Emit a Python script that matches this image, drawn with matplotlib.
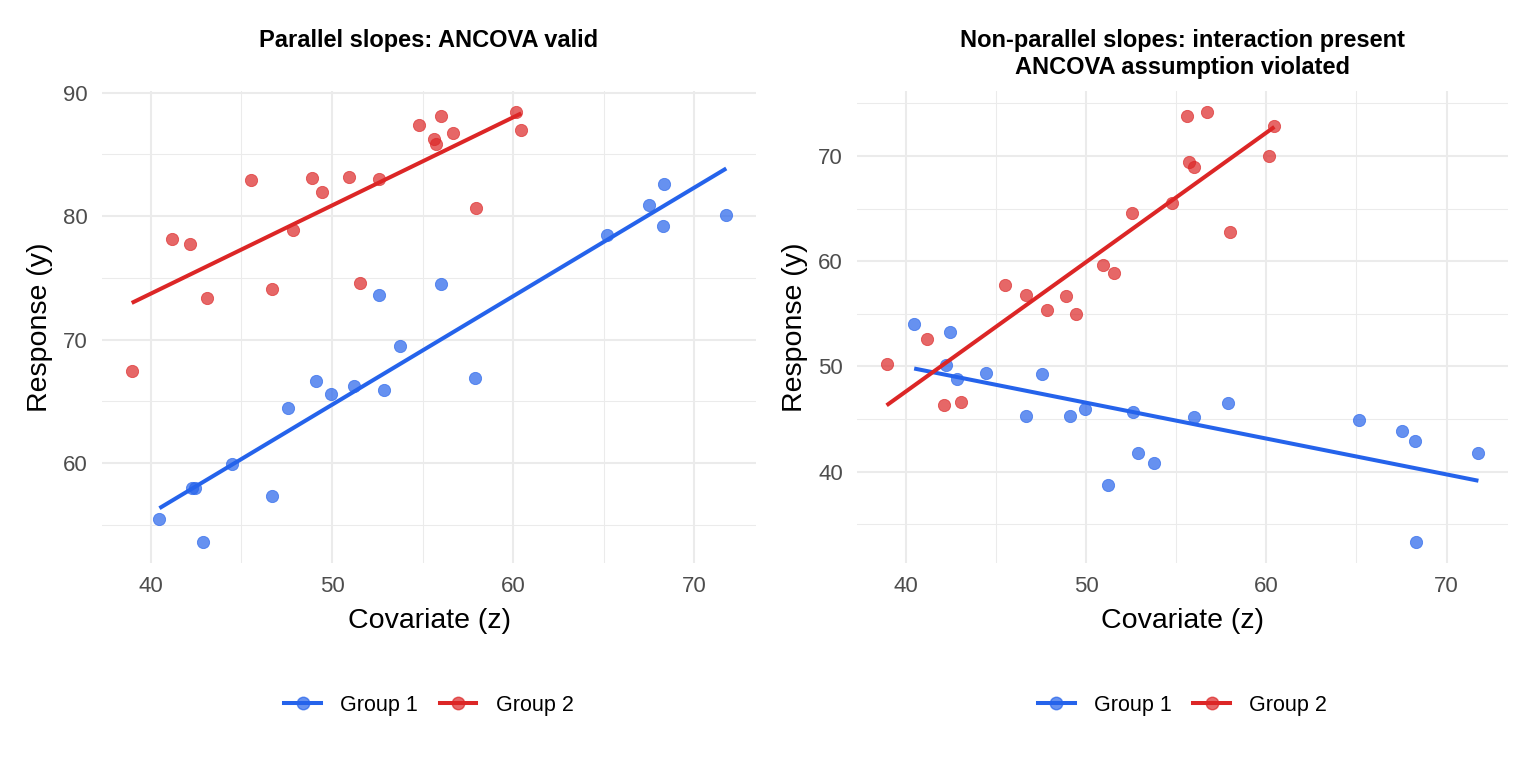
import numpy as np
import matplotlib
matplotlib.use("Agg")
import matplotlib.pyplot as plt
from matplotlib.lines import Line2D
from matplotlib.colors import to_rgba

# ---------------- data ----------------
z_g1 = [40.47, 42.25, 42.45, 42.86, 44.47, 46.70, 47.57, 49.09, 49.97, 51.22,
        52.60, 52.87, 53.76, 56.00, 57.90, 65.17, 67.53, 68.28, 68.33, 71.77]
z_g2 = [38.94, 41.19, 42.15, 43.07, 45.53, 46.67, 47.84, 48.88, 49.42, 50.92,
        51.53, 52.57, 54.78, 55.63, 55.74, 56.00, 56.70, 57.97, 60.18, 60.45]

# Panel 1: parallel slopes
y1_g1 = [55.44, 58.00, 58.00, 53.64, 59.90, 57.36, 64.47, 66.68, 65.60, 66.20,
         73.64, 65.93, 69.49, 74.53, 66.90, 78.44, 80.91, 79.17, 82.60, 80.10]
y1_g2 = [67.47, 78.17, 77.77, 73.33, 82.96, 74.06, 78.90, 83.09, 81.96, 83.17,
         74.54, 82.98, 87.39, 86.26, 85.83, 88.12, 86.72, 80.62, 88.39, 86.96]

# Panel 2: non-parallel slopes
y2_g1 = [53.99, 50.16, 53.24, 48.77, 49.37, 45.25, 49.28, 45.31, 45.94, 38.71,
         45.66, 41.73, 40.82, 45.16, 46.54, 44.94, 43.84, 42.96, 33.36, 41.76]
y2_g2 = [50.22, 52.63, 46.35, 46.60, 57.78, 56.79, 55.40, 56.73, 55.02, 59.59,
         58.92, 64.54, 65.49, 73.78, 69.43, 68.98, 74.13, 62.79, 69.97, 72.83]

groups = ["Group 1", "Group 2"]
titles = ["Parallel slopes: ANCOVA valid",
          "Non-parallel slopes: interaction present\nANCOVA assumption violated"]
xlabel = "Covariate (z)"
ylabel = "Response (y)"

x_major = [40, 50, 60, 70]
x_minor = [35, 45, 55, 65, 75]
y1_major = [60, 70, 80, 90]
y1_minor = [55, 65, 75, 85]
y2_major = [40, 50, 60, 70]
y2_minor = [35, 45, 55, 65, 75]

# ---------------- style ----------------
BLUE = "#2563EB"
RED = "#DC2626"
colors = [BLUE, RED]
FONT = ["Liberation Sans", "DejaVu Sans"]
plt.rcParams["font.family"] = FONT

W, H = 1536, 768
fig = plt.figure(figsize=(W / 100, H / 100), dpi=100)
fig.patch.set_facecolor("white")


def px_axes(left, top, right, bottom):
    return fig.add_axes([left / W, 1 - bottom / H, (right - left) / W, (bottom - top) / H])


def expand(vals):
    lo, hi = min(vals), max(vals)
    pad = 0.05 * (hi - lo)
    return lo - pad, hi + pad


panels = [
    dict(box=(102, 91, 756, 563), ys=(y1_g1, y1_g2), ymaj=y1_major, ymin=y1_minor, title=titles[0]),
    dict(box=(857, 91, 1508, 563), ys=(y2_g1, y2_g2), ymaj=y2_major, ymin=y2_minor, title=titles[1]),
]

zs = (z_g1, z_g2)

for p in panels:
    ax = px_axes(*p["box"])
    ax.set_facecolor("white")
    for s in ax.spines.values():
        s.set_visible(False)

    ax.set_xticks(x_major)
    ax.set_xticks(x_minor, minor=True)
    ax.set_yticks(p["ymaj"])
    ax.set_yticks(p["ymin"], minor=True)

    all_z = z_g1 + z_g2
    all_y = p["ys"][0] + p["ys"][1]

    ax.grid(which="major", color="#EBEBEB", linewidth=1.5)
    ax.grid(which="minor", color="#EBEBEB", linewidth=0.75)
    ax.set_axisbelow(True)
    ax.tick_params(which="both", length=0)
    ax.tick_params(axis="x", which="major", labelsize=16, labelcolor="#4D4D4D", pad=9)
    ax.tick_params(axis="y", which="major", labelsize=16, labelcolor="#4D4D4D", pad=10)

    for zg, yg, c in zip(zs, p["ys"], colors):
        zg = np.asarray(zg)
        yg = np.asarray(yg)
        ax.scatter(zg, yg, s=78, color=c, alpha=0.7, edgecolors=c, linewidths=0.6, zorder=3)
        b, a = np.polyfit(zg, yg, 1)
        xx = np.array([zg.min(), zg.max()])
        ax.plot(xx, a + b * xx, color=c, linewidth=2.9, zorder=4, solid_capstyle="butt")

    ax.set_xlim(*expand(all_z))
    ax.set_ylim(*expand(all_y))

    left, top, right, bottom = p["box"]
    cx = (left + right) / 2
    # title (one text per line, top-aligned like the reference)
    for i, line in enumerate(p["title"].split("\n")):
        fig.text(cx / W, 1 - (47.5 + 26.5 * i) / H, line, ha="center", va="baseline",
                 fontsize=17, fontweight="bold")
    # axis labels
    fig.text(cx / W, 1 - 621 / H, xlabel, ha="center", va="center", fontsize=20.5)
    fig.text((left - 62) / W, 1 - ((top + bottom) / 2) / H, ylabel, ha="center", va="center",
             rotation=90, fontsize=20.5)

    handles = [Line2D([], [], color=c, linewidth=2.9, marker="o", markersize=9,
                      markerfacecolor=to_rgba(c, 0.7), markeredgecolor=to_rgba(c, 0.7))
               for c in colors]
    fig.legend(handles, groups, loc="center", bbox_to_anchor=(cx / W, 1 - 705 / H),
               ncol=2, frameon=False, fontsize=15.5, handlelength=1.7,
               handletextpad=0.9, columnspacing=1.0)

fig.savefig("out.png", dpi=100, facecolor="white")
